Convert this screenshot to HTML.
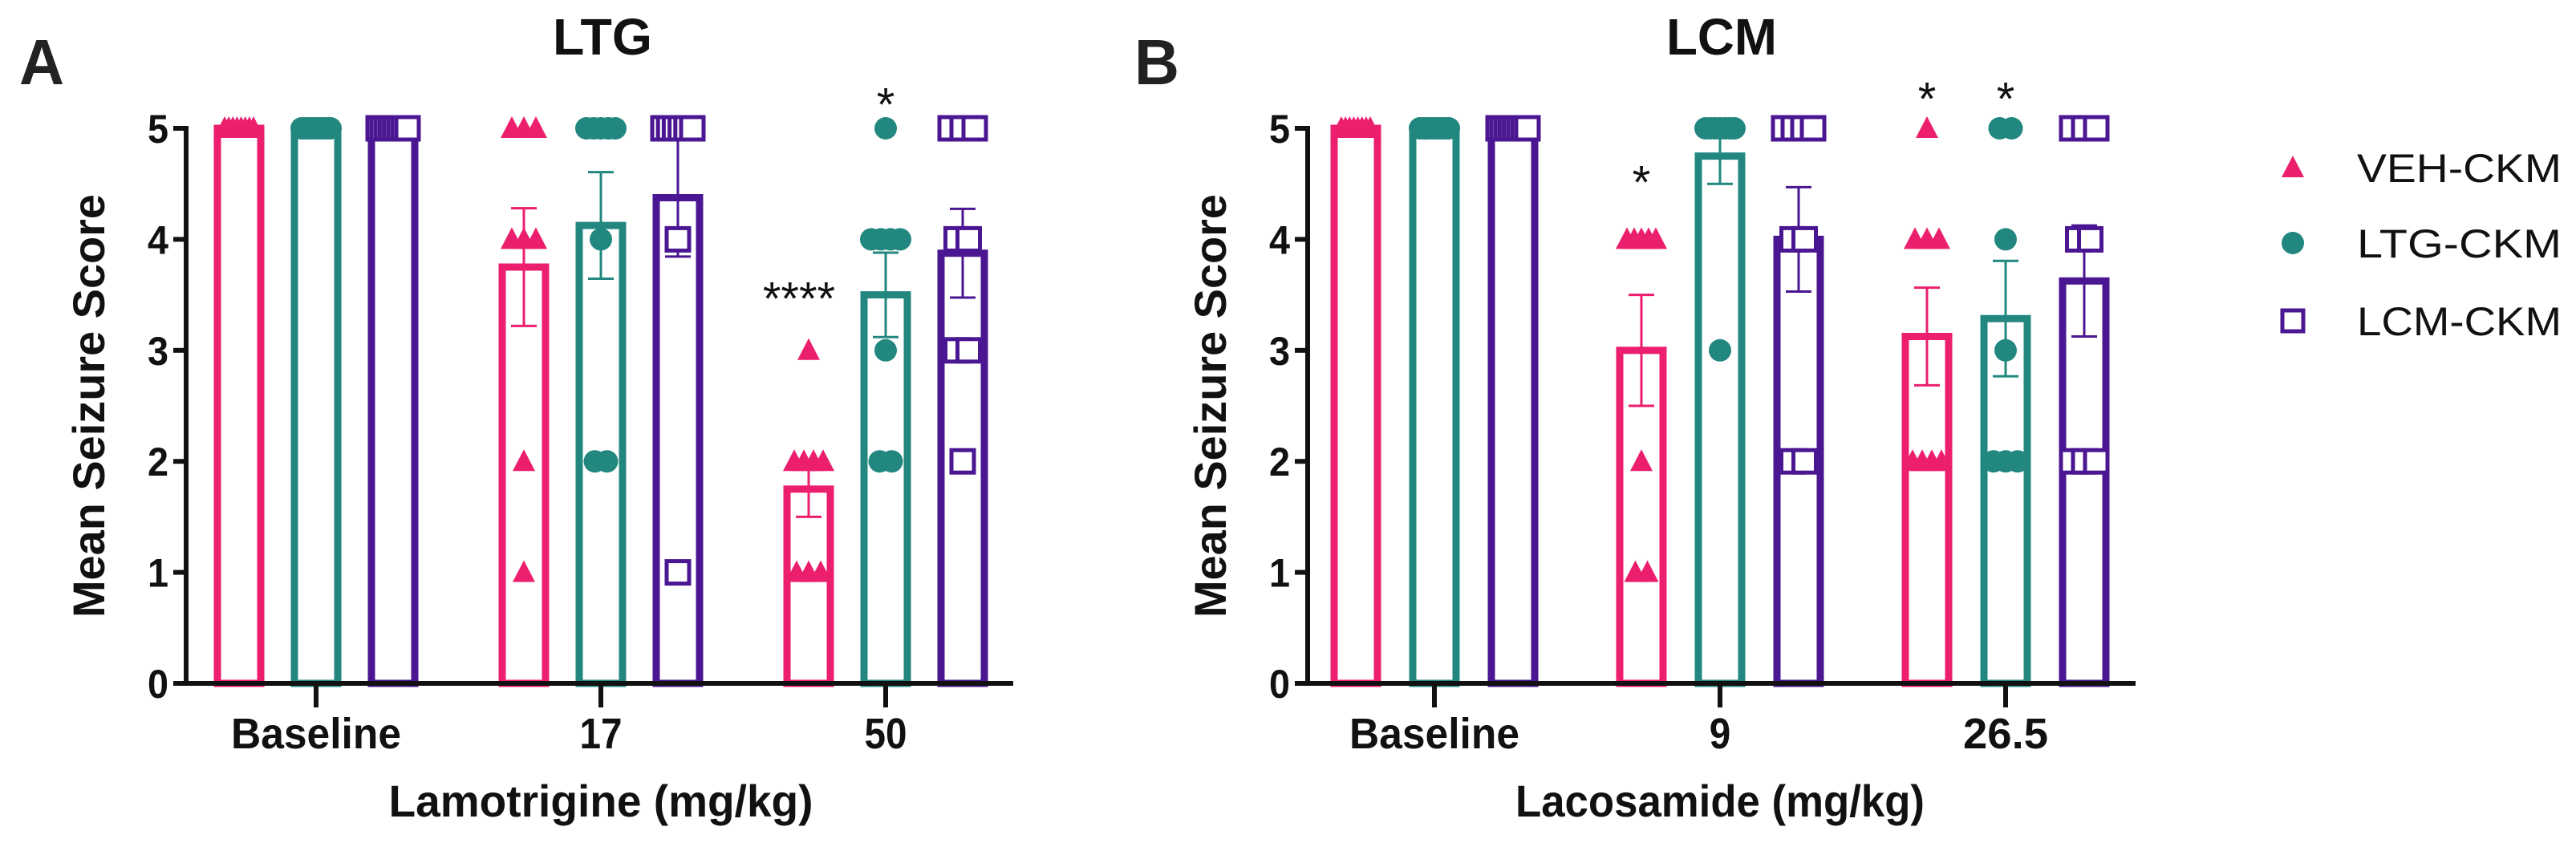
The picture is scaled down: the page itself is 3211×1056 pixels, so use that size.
<!DOCTYPE html>
<html><head><meta charset="utf-8">
<style>
body{margin:0;background:#fff;}
svg{display:block;}
text{font-family:"Liberation Sans",Arial,sans-serif;}
</style></head>
<body>
<svg id="chart" width="3211" height="1056" viewBox="0 0 3211 1056" xmlns="http://www.w3.org/2000/svg"></svg>
<script>
// ---- data ----
const categoriesA = ["Baseline", "17", "50"];
const categoriesB = ["Baseline", "9", "26.5"];
const seriesNames = ["VEH-CKM", "LTG-CKM", "LCM-CKM"];
const yTicks = [0, 1, 2, 3, 4, 5];
// bar means [series][category]
const meansA = [[5, 3.75, 1.75], [5, 4.125, 3.5], [5, 4.375, 3.875]];
const semA = [[0, 0.53, 0.25], [0, 0.48, 0.38], [0, 0.53, 0.4]];
const meansB = [[5, 3.0, 3.125], [5, 4.75, 3.286], [5, 4.0, 3.625]];
const semB = [[0, 0.5, 0.44], [0, 0.25, 0.52], [0, 0.47, 0.5]];
// individual points [series][category]
const pointsA = [
  [[5,5,5,5,5,5,5,5],[5,5,5,4,4,4,2,1],[3,2,2,2,2,1,1,1]],
  [[5,5,5,5,5,5,5,5],[5,5,5,5,5,4,2,2],[5,4,4,4,4,3,2,2]],
  [[5,5,5,5,5,5,5,5],[5,5,5,5,5,5,4,1],[5,5,5,4,4,3,3,2]]
];
const pointsB = [
  [[5,5,5,5,5,5,5,5],[4,4,4,4,4,2,1,1],[5,4,4,4,2,2,2,2]],
  [[5,5,5,5,5,5,5,5],[5,5,5,5,5,5,5,3],[5,5,4,3,2,2,2]],
  [[5,5,5,5,5,5,5,5],[5,5,5,5,4,4,2,2],[5,5,5,4,4,2,2,2]]
];
// significance annotations: [series, category, label, value-position]
const sigA = [[0, 2, "****", 3.55], [1, 2, "*", 5.3]];
const sigB = [[0, 1, "*", 4.6], [0, 2, "*", 5.35], [1, 2, "*", 5.35]];

const colors = ["#ec1e6e", "#21877f", "#4b1692"];
const svg = document.getElementById('chart');
const NS = "http://www.w3.org/2000/svg";
function mk(tag, attrs, parent) {
  const e = document.createElementNS(NS, tag);
  for (const k in attrs) e.setAttribute(k, attrs[k]);
  (parent || svg).appendChild(e);
  return e;
}
const Y0 = 852, Y5 = 160;
function yScale(v) { return Y0 - (Y0 - Y5) * v / 5; }
function approxLen(s, per) { return s.length * per; }

function drawPanel(cfg) {
  const g = mk('g', {});
  
  
  const xScale = (c, s) => cfg.x0 + c * cfg.groupGap + (s - 1) * cfg.barGap;
  // bars
  cfg.means.forEach((ser, s) => {
    ser.forEach((m, c) => {
      const cx = xScale(c, s), w = 54;
      const r = mk('rect', {x: cx - w / 2, y: yScale(m), width: w, height: Y0 - yScale(m), fill: 'none', stroke: colors[s], 'stroke-width': 9}, g);
      
      
      const sd = cfg.sem[s][c];
      if (sd > 0) {
        const eg = mk('g', {stroke: colors[s], 'stroke-width': 3}, g);
        
        
        mk('line', {x1: cx, x2: cx, y1: yScale(m - sd), y2: yScale(Math.min(m + sd, 5))}, eg);
        mk('line', {x1: cx - 16, x2: cx + 16, y1: yScale(m - sd), y2: yScale(m - sd)}, eg);
        mk('line', {x1: cx - 16, x2: cx + 16, y1: yScale(Math.min(m + sd, 5)), y2: yScale(Math.min(m + sd, 5))}, eg);
      }
    });
  });
  // points
  cfg.points.forEach((ser, s) => {
    ser.forEach((pts, c) => {
      const counts = {};
      pts.forEach(v => counts[v] = (counts[v] || 0) + 1);
      const seen = {};
      pts.forEach(v => {
        const n = counts[v], i = seen[v] = (seen[v] === undefined ? 0 : seen[v] + 1);
        const sp = n > 1 ? Math.min(15, 36 / (n - 1)) : 0;
        const px = xScale(c, s) + (i - (n - 1) / 2) * sp, py = yScale(v);
        let m;
        if (s === 0) m = mk('polygon', {points: `${px},${py-15} ${px-14},${py+12} ${px+14},${py+12}`, fill: colors[0]}, g);
        else if (s === 1) m = mk('circle', {cx: px, cy: py, r: 14, fill: colors[1]}, g);
        else m = mk('rect', {x: px - 14, y: py - 14, width: 28, height: 28, fill: '#fff', stroke: colors[2], 'stroke-width': 5}, g);
        
        
      });
    });
  });
  // axes
  const ax = mk('g', {stroke: '#111', 'stroke-width': 6}, g);
  
  
  mk('line', {x1: cfg.axisX, x2: cfg.axisX, y1: Y5 - 3, y2: Y0 + 3}, ax);
  mk('line', {x1: cfg.axisX - 3, x2: cfg.axisEnd, y1: Y0, y2: Y0}, ax);
  yTicks.forEach(t => {
    mk('line', {x1: cfg.axisX - 16, x2: cfg.axisX, y1: yScale(t), y2: yScale(t)}, ax);
    const tl = mk('text', {x: cfg.axisX - 22, y: yScale(t) + 18, 'text-anchor': 'end', 'font-size': 50, 'font-weight': 'bold', fill: '#111', textLength: 26, lengthAdjust: 'spacingAndGlyphs'}, g);
    tl.textContent = t;
    
    
  });
  cfg.cats.forEach((c, i) => {
    const cx = xScale(i, 1);
    mk('line', {x1: cx, x2: cx, y1: Y0, y2: Y0 + 30}, ax);
    const tl = mk('text', {x: cx, y: 933, 'text-anchor': 'middle', 'font-size': 54, 'font-weight': 'bold', fill: '#111', textLength: approxLen(c, 26.5), lengthAdjust: 'spacingAndGlyphs'}, g);
    tl.textContent = c;
    
    
  });
  // significance
  cfg.sig.forEach(([s, c, lab, v]) => {
    const cx = xScale(c, s) + (lab.length > 1 ? -12 : 0);
    const t = mk('text', {x: cx, y: yScale(v) + 32, 'text-anchor': 'middle', 'font-size': 58, fill: '#111'}, g);
    t.textContent = lab;
    
    
  });
  // titles
  const yt = mk('text', {x: 0, y: 0, transform: `translate(${cfg.axisX - 102},506) rotate(-90)`, 'text-anchor': 'middle', 'font-size': 56, 'font-weight': 'bold', fill: '#111', textLength: 528, lengthAdjust: 'spacingAndGlyphs'}, g);
  yt.textContent = 'Mean Seizure Score';
  
  
  const xt = mk('text', {x: xScale(1, 1), y: 1018, 'text-anchor': 'middle', 'font-size': 56, 'font-weight': 'bold', fill: '#111', textLength: cfg.xTitleLen, lengthAdjust: 'spacingAndGlyphs'}, g);
  xt.textContent = cfg.xTitle;
  
  
  const tt = mk('text', {x: cfg.titleX, y: 68, 'text-anchor': 'middle', 'font-size': 64, 'font-weight': 'bold', fill: '#111', textLength: cfg.titleLen, lengthAdjust: 'spacingAndGlyphs'}, g);
  tt.textContent = cfg.title;
  
  
  const pl = mk('text', {x: cfg.letterX, y: 105, 'font-size': 80, 'font-weight': 'bold', fill: '#222', textLength: 56, lengthAdjust: 'spacingAndGlyphs'}, g);
  pl.textContent = cfg.letter;
  
  
}

drawPanel({name: 'panel-a-ltg', x0: 394, groupGap: 355, barGap: 96, axisX: 232, axisEnd: 1263,
  cats: categoriesA, means: meansA, sem: semA, points: pointsA, sig: sigA,
  xTitle: 'Lamotrigine (mg/kg)', xTitleLen: 529, title: 'LTG', titleX: 751, titleLen: 124, letter: 'A', letterX: 24});
drawPanel({name: 'panel-b-lcm', x0: 1788, groupGap: 356, barGap: 98, axisX: 1630, axisEnd: 2662,
  cats: categoriesB, means: meansB, sem: semB, points: pointsB, sig: sigB,
  xTitle: 'Lacosamide (mg/kg)', xTitleLen: 510, title: 'LCM', titleX: 2146, titleLen: 138, letter: 'B', letterX: 1414});

// legend
const lg = mk('g', {});


const legY = [209, 303, 400];
seriesNames.forEach((n, s) => {
  const eg = mk('g', {}, lg);
  
  
  const px = 2858, py = legY[s];
  if (s === 0) mk('polygon', {points: `${px},${py-15} ${px-14},${py+12} ${px+14},${py+12}`, fill: colors[0]}, eg);
  else if (s === 1) mk('circle', {cx: px, cy: py, r: 14, fill: colors[1]}, eg);
  else mk('rect', {x: px - 13, y: py - 13, width: 26, height: 26, fill: '#fff', stroke: colors[2], 'stroke-width': 5}, eg);
  const t = mk('text', {x: 2938, y: py + 18, 'font-size': 50, fill: '#111', textLength: 255, lengthAdjust: 'spacingAndGlyphs'}, eg);
  t.textContent = n;
});
</script>
</body></html>
